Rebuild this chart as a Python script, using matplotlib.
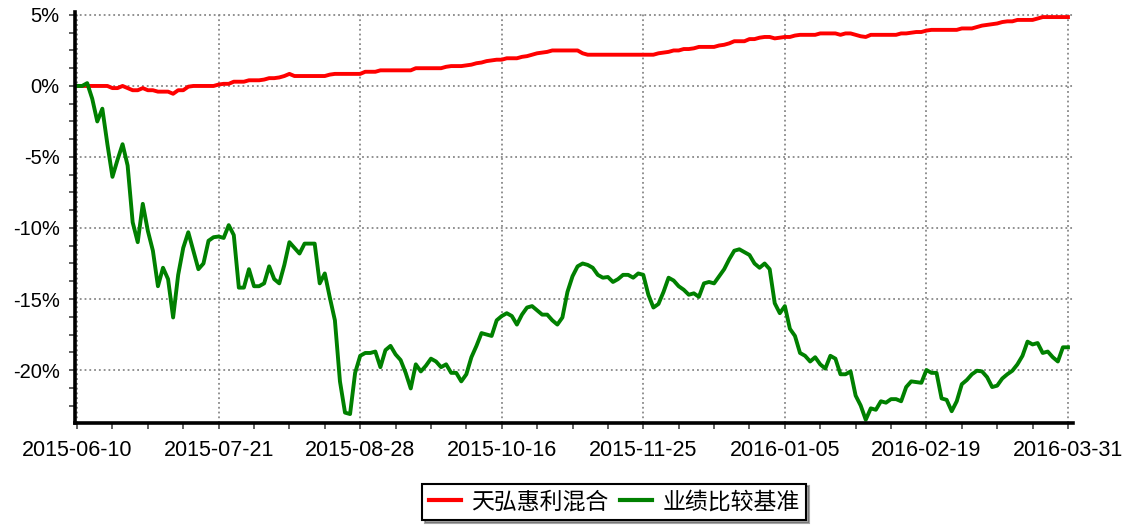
import numpy as np
import matplotlib.pyplot as plt
from matplotlib.ticker import MultipleLocator, FuncFormatter

plt.rcParams['font.family'] = ['Liberation Sans', 'Noto Sans CJK SC']

# trading-day series, % return since 2015-06-10
tick_dates = ['2015-06-10', '2015-07-21', '2015-08-28', '2015-10-16',
              '2015-11-25', '2016-01-05', '2016-02-19', '2016-03-31']
tick_step = 28  # trading days between labelled dates
names = ['天弘惠利混合', '业绩比较基准']

fund = [0, 0, 0, 0, 0, 0, 0, -0.15, -0.15, 0,
        -0.15, -0.3, -0.3, -0.15, -0.3, -0.3, -0.4, -0.4, -0.4, -0.55,
        -0.3, -0.3, -0.05, 0, 0, 0, 0, 0, 0.1, 0.15,
        0.15, 0.3, 0.3, 0.3, 0.4, 0.4, 0.4, 0.45, 0.55, 0.55,
        0.6, 0.7, 0.85, 0.7, 0.7, 0.7, 0.7, 0.7, 0.7, 0.7,
        0.8, 0.85, 0.85, 0.85, 0.85, 0.85, 0.85, 1.0, 1.0, 1.0,
        1.1, 1.1, 1.1, 1.1, 1.1, 1.1, 1.1, 1.25, 1.25, 1.25,
        1.25, 1.25, 1.25, 1.35, 1.4, 1.4, 1.4, 1.45, 1.5, 1.6,
        1.65, 1.75, 1.8, 1.85, 1.85, 1.95, 1.95, 1.95, 2.05, 2.1,
        2.2, 2.3, 2.35, 2.4, 2.5, 2.5, 2.5, 2.5, 2.5, 2.5,
        2.3, 2.2, 2.2, 2.2, 2.2, 2.2, 2.2, 2.2, 2.2, 2.2,
        2.2, 2.2, 2.2, 2.2, 2.2, 2.3, 2.35, 2.4, 2.5, 2.5,
        2.6, 2.6, 2.65, 2.75, 2.75, 2.75, 2.75, 2.85, 2.9, 3.0,
        3.15, 3.15, 3.15, 3.3, 3.3, 3.4, 3.45, 3.45, 3.35, 3.4,
        3.45, 3.45, 3.55, 3.6, 3.6, 3.6, 3.6, 3.7, 3.7, 3.7,
        3.7, 3.6, 3.7, 3.7, 3.6, 3.5, 3.45, 3.6, 3.6, 3.6,
        3.6, 3.6, 3.6, 3.7, 3.7, 3.75, 3.8, 3.8, 3.9, 3.95,
        3.95, 3.95, 3.95, 3.95, 3.95, 4.05, 4.05, 4.05, 4.15, 4.25,
        4.3, 4.35, 4.4, 4.5, 4.55, 4.55, 4.65, 4.65, 4.65, 4.65,
        4.75, 4.85, 4.85, 4.85, 4.85, 4.85, 4.85]

bench = [0, 0, 0.2, -0.9, -2.5, -1.6, -4.1, -6.4, -5.2, -4.1,
         -5.6, -9.6, -11.0, -8.3, -10.2, -11.6, -14.1, -12.8, -13.6, -16.3,
         -13.3, -11.4, -10.3, -11.6, -12.9, -12.5, -10.9, -10.65, -10.6, -10.7,
         -9.8, -10.5, -14.2, -14.2, -12.9, -14.1, -14.1, -13.9, -12.7, -13.6,
         -13.9, -12.6, -11.0, -11.4, -11.8, -11.1, -11.1, -11.1, -13.9, -13.2,
         -14.9, -16.5, -20.8, -23.0, -23.1, -20.2, -19.0, -18.8, -18.8, -18.7,
         -19.8, -18.6, -18.3, -18.9, -19.3, -20.2, -21.3, -19.6, -20.1, -19.7,
         -19.2, -19.4, -19.8, -19.6, -20.2, -20.2, -20.8, -20.3, -19.1, -18.3,
         -17.4, -17.5, -17.6, -16.5, -16.2, -16.0, -16.2, -16.8, -16.1, -15.6,
         -15.5, -15.8, -16.1, -16.1, -16.5, -16.8, -16.3, -14.5, -13.4, -12.7,
         -12.5, -12.6, -12.8, -13.3, -13.5, -13.45, -13.8, -13.6, -13.3, -13.3,
         -13.5, -13.2, -13.3, -14.7, -15.6, -15.35, -14.5, -13.5, -13.7, -14.1,
         -14.35, -14.7, -14.6, -14.85, -13.9, -13.8, -13.9, -13.4, -12.9, -12.2,
         -11.6, -11.5, -11.7, -11.9, -12.5, -12.8, -12.5, -12.9, -15.3, -16.0,
         -15.5, -17.1, -17.6, -18.8, -19.0, -19.4, -19.1, -19.6, -19.9, -19.0,
         -19.2, -20.3, -20.3, -20.1, -21.8, -22.5, -23.5, -22.7, -22.8, -22.2,
         -22.3, -22.05, -22.05, -22.2, -21.2, -20.8, -20.85, -20.9, -20.0, -20.2,
         -20.2, -22.0, -22.1, -22.9, -22.2, -21.0, -20.7, -20.3, -20.05, -20.1,
         -20.5, -21.2, -21.1, -20.6, -20.3, -20.05, -19.6, -19.0, -18.0, -18.2,
         -18.1, -18.8, -18.7, -19.1, -19.4, -18.4, -18.4]

days = np.arange(len(fund))

fig = plt.figure(figsize=(11.25, 5.25), dpi=100)
ax = fig.add_axes([0.0667, 0.1943, 0.8871, 0.7829])

ax.plot(days, fund, color='#ff0000', lw=2.8, label=names[0])
ax.plot(days, bench, color='#008000', lw=2.8, label=names[1])

ax.set_xlim(-0.4, 197)
ax.set_ylim(-23.73, 5.21)

ax.set_xticks(np.arange(len(tick_dates)) * tick_step)
ax.set_xticklabels(tick_dates)
ax.xaxis.set_minor_locator(MultipleLocator(7))
ax.yaxis.set_major_locator(MultipleLocator(5))
ax.yaxis.set_minor_locator(MultipleLocator(1.25))
ax.yaxis.set_major_formatter(FuncFormatter(lambda v, p: '%d%%' % round(v)))

ax.grid(True, which='major', color='#888888', linestyle=':', lw=1.3)
ax.spines['top'].set_visible(False)
ax.spines['right'].set_visible(False)
for s in ['left', 'bottom']:
    ax.spines[s].set_linewidth(2.6)

ax.tick_params(which='both', direction='out', length=4, width=1.2, color='#444444')
ax.tick_params(axis='x', labelsize=15.5, pad=8)
ax.tick_params(axis='y', labelsize=14.5, pad=7)

leg = ax.legend(loc='center', bbox_to_anchor=(0.5458, 0.0438),
                bbox_transform=fig.transFigure, ncol=2, fontsize=16.5,
                frameon=True, fancybox=False, shadow=True, edgecolor='black',
                handlelength=1.4, handletextpad=0.45, columnspacing=0.5,
                borderpad=0.3, borderaxespad=0)
leg.get_frame().set_linewidth(1.5)
for line in leg.get_lines():
    line.set_linewidth(3)

fig.savefig('out.png', dpi=100)
